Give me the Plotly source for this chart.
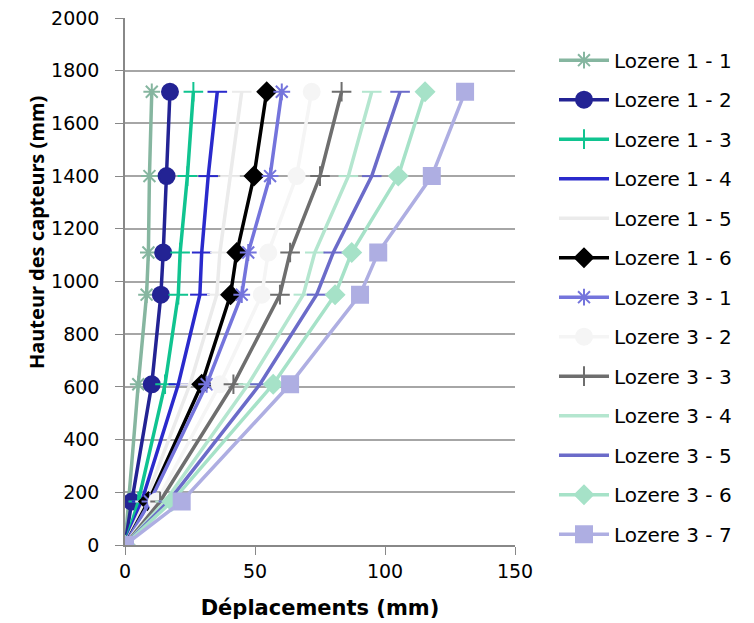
import plotly.graph_objects as go

heights = [0, 165, 610, 950, 1110, 1400, 1720]

names = ["Lozere 1 - 1", "Lozere 1 - 2", "Lozere 1 - 3", "Lozere 1 - 4", "Lozere 1 - 5",
         "Lozere 1 - 6", "Lozere 3 - 1", "Lozere 3 - 2", "Lozere 3 - 3", "Lozere 3 - 4",
         "Lozere 3 - 5", "Lozere 3 - 6", "Lozere 3 - 7"]

l1_1 = [0, 1.3, 5.1, 8.3, 9.0, 9.4, 10.3]
l1_2 = [0, 2.6, 10.3, 13.8, 14.7, 16.0, 17.3]
l1_3 = [0, 5.1, 15.4, 20.5, 21.2, 24.0, 26.3]
l1_4 = [0, 6.4, 20.5, 28.8, 29.5, 32.0, 35.5]
l1_5 = [0, 7.7, 25.0, 35.3, 36.5, 40.4, 44.9]
l1_6 = [0, 9.0, 29.5, 40.6, 43.0, 49.6, 54.5]
l3_1 = [0, 9.6, 31.4, 44.9, 47.4, 55.8, 60.3]
l3_2 = [0, 12.2, 36.5, 52.6, 55.1, 66.0, 71.8]
l3_3 = [0, 13.5, 41.7, 59.6, 63.5, 75.0, 83.3]
l3_4 = [0, 15.4, 47.4, 68.6, 73.0, 85.9, 94.9]
l3_5 = [0, 16.7, 51.9, 73.7, 80.1, 94.9, 105.8]
l3_6 = [0, 18.0, 57.0, 80.8, 87.2, 105.1, 115.4]
l3_7 = [0, 21.8, 63.5, 90.4, 97.4, 118.0, 130.8]

series = [l1_1, l1_2, l1_3, l1_4, l1_5, l1_6, l3_1, l3_2, l3_3, l3_4, l3_5, l3_6, l3_7]

colors = ["#86B6A0", "#232394", "#10C490", "#2A2ACC", "#EBEBEB", "#000000", "#7474DC",
          "#F5F5F5", "#6E6E6E", "#B4E6CF", "#6B6BC9", "#A6E2C8", "#AEAEE2"]
symbols = ["asterisk-open", "circle", "cross-thin-open", "line-ew-open", "line-ew-open",
           "diamond", "asterisk-open", "circle", "cross-thin-open", "line-ew-open",
           "line-ew-open", "diamond", "square"]
sizes = [14, 16, 14, 14, 14, 14, 14, 16, 14, 14, 14, 14, 16]

fig = go.Figure()
for nm, xs, c, s, sz in zip(names, series, colors, symbols, sizes):
    fig.add_trace(go.Scatter(
        x=xs, y=heights, name=nm, mode="lines+markers", legendgroup=nm,
        line=dict(color=c, width=3.5),
        marker=dict(symbol=s, size=sz, color=c, line=dict(color=c, width=2)),
    ))

fig.update_layout(
    width=754, height=623,
    margin=dict(l=125, r=239, t=18, b=78),
    plot_bgcolor="white", paper_bgcolor="white",
    font=dict(family="DejaVu Sans", size=19, color="#000000"),
    showlegend=True,
    legend=dict(x=1.10, xanchor="left", y=0.957, yanchor="top",
                font=dict(size=20, family="DejaVu Sans"),
                tracegroupgap=10.5, itemwidth=50, traceorder="grouped",
                maxheight=620, bgcolor="rgba(0,0,0,0)"),
    annotations=[dict(
        text="<b>Hauteur des capteurs (mm)</b>", textangle=-90,
        xref="paper", yref="paper", x=(36 - 125) / 390, y=(545 - 233) / 527,
        xanchor="center", yanchor="middle", showarrow=False,
        font=dict(family="Noto Sans", size=20, color="#000000"),
    )],
)
fig.update_xaxes(
    range=[0, 150], tickvals=[0, 50, 100, 150], showgrid=False, zeroline=False,
    showline=True, linecolor="#888888", linewidth=1.5, automargin=False,
    ticks="outside", ticklen=8, tickcolor="#888888",
    title=dict(text="<b>Déplacements (mm)</b>", font=dict(size=21), standoff=20),
)
fig.update_yaxes(
    range=[0, 2000], dtick=200, showgrid=True, gridcolor="#A6A6A6", gridwidth=1.5,
    zeroline=False, showline=True, linecolor="#888888", linewidth=1.5, automargin=False,
    ticks="outside", ticklen=8, tickcolor="#888888", ticklabelstandoff=12,
)

fig.write_html("out.html")
